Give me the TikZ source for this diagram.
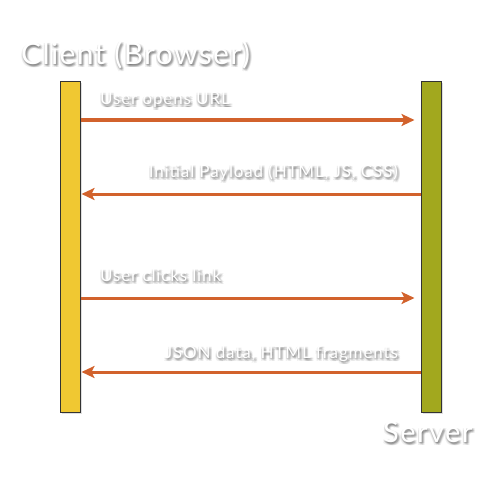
\documentclass[tikz,border=0pt]{standalone}
\usepackage{fontspec}
\setmainfont{Lato}
\newfontfamily\titlefont[LetterSpace=4.5]{Lato}
\newfontfamily\serverfont[LetterSpace=5]{Lato}
\newfontfamily\msgfont[LetterSpace=5]{Lato}
\usetikzlibrary{arrows.meta,shadows}
\definecolor{msgcol}{HTML}{D2622C}
\definecolor{clientcol}{HTML}{F0C832}
\definecolor{servercol}{HTML}{A2A81E}
\definecolor{barborder}{HTML}{333333}
\tikzset{
  lifebar/.style={draw=barborder,line width=1pt,minimum width=20pt,minimum height=330pt,inner sep=0pt,
    drop shadow={opacity=0.25,shadow xshift=1.5pt,shadow yshift=-1.5pt}},
  msg/.style={draw=msgcol,line width=3pt,-{Stealth[length=13pt,width=12pt,inset=3pt]}},
  lbl/.style={inner sep=0pt,text=white},
  shd/.style={inner sep=0pt,text=black,opacity=0.06},
}
\newcommand\shtext[5]{% name, position, anchor, font, text
  \foreach \dx/\dy in {0/-2,2/-2,1/-1,-1/-1,1/-3,-1/-3,3/-1,3/-3,0/-1,2/-1,1/-2,2/-3}{
    \node[shd,anchor=#3,font=#4,xshift=\dx pt,yshift=\dy pt] at (#2) {#5};}
  \node[lbl,anchor=#3,font=#4] (#1) at (#2) {#5};
}
\begin{document}
\begin{tikzpicture}[x=1pt,y=-1pt]
\useasboundingbox (0,0) rectangle (500,500);
\fill[white] (0,0) rectangle (500,500);
\node[lifebar,fill=clientcol] (client) at (70,247) {};
\node[lifebar,fill=servercol] (server) at (431,247) {};
\shtext{tclient}{21,65}{base west}{\titlefont\fontsize{30}{30}\selectfont}{Client (Browser)}
\shtext{tserver}{383,442}{base west}{\serverfont\fontsize{29}{29}\selectfont}{Server}
\coordinate (c1) at (client.east |- 0,120);
\coordinate (s1) at (server.west |- 0,120);
\coordinate (c2) at (client.east |- 0,194);
\coordinate (s2) at (server.west |- 0,194);
\coordinate (c3) at (client.east |- 0,298);
\coordinate (s3) at (server.west |- 0,298);
\coordinate (c4) at (client.east |- 0,372);
\coordinate (s4) at (server.west |- 0,372);
\draw[msg] (c1) -- ([xshift=-6pt]s1);
\draw[msg] (s2) -- ([xshift=1pt]c2);
\draw[msg] (c3) -- ([xshift=-6pt]s3);
\draw[msg] (s4) -- ([xshift=1pt]c4);
\shtext{m1}{100,105}{base west}{\msgfont\fontsize{17}{17}\selectfont}{User opens URL}
\shtext{m2}{398,177}{base east}{\msgfont\fontsize{17}{17}\selectfont}{Initial Payload (HTML, JS, CSS)}
\shtext{m3}{100,281}{base west}{\msgfont\fontsize{17}{17}\selectfont}{User clicks link}
\shtext{m4}{398,358}{base east}{\msgfont\fontsize{17}{17}\selectfont}{JSON data, HTML fragments}
\end{tikzpicture}
\end{document}
